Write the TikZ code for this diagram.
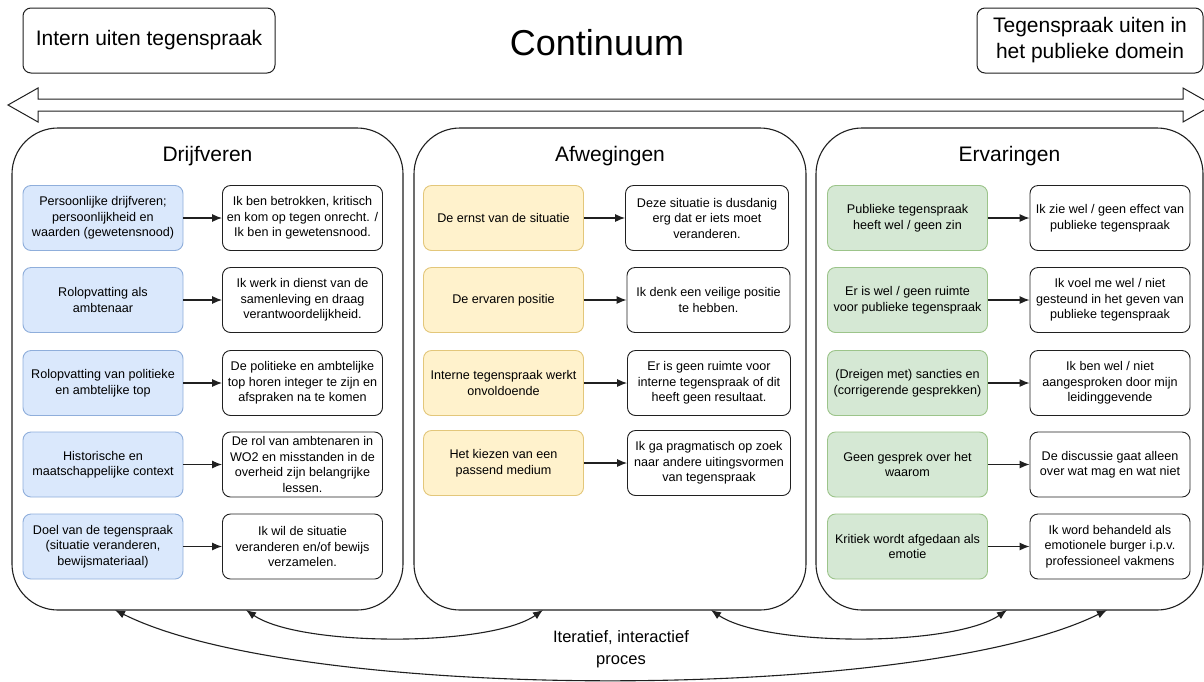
\documentclass[tikz,border=0pt]{standalone}
\usepackage{fontspec}
\setmainfont{Liberation Sans}
\usetikzlibrary{arrows.meta}
\definecolor{bfill}{HTML}{DAE8FC}
\definecolor{bline}{HTML}{8FAEDB}
\definecolor{yfill}{HTML}{FFF2CC}
\definecolor{yline}{HTML}{E3C77A}
\definecolor{gfill}{HTML}{D5E8D4}
\definecolor{gline}{HTML}{9CC48A}
\definecolor{ink}{HTML}{202020}
\begin{document}
\begin{tikzpicture}[x=1pt,y=-1pt,
  panel/.style={draw=ink, line width=1.1pt, rounded corners=46pt, minimum height=482pt, minimum width=#1, inner sep=0pt},
  topbox/.style={draw=ink, line width=1pt, rounded corners=8pt, minimum height=65pt, inner sep=2pt, align=center, font=\fontsize{21}{26}\selectfont},
  ptitle/.style={anchor=base, font=\fontsize{21}{25}\selectfont},
  box/.style={rounded corners=8pt, minimum width=160pt, minimum height=65pt, inner sep=1pt, align=center, line width=0.9pt, font=\fontsize{12.6}{15.5}\selectfont},
  bbox/.style={box, draw=bline, fill=bfill},
  ybox/.style={box, draw=yline, fill=yfill},
  gbox/.style={box, draw=gline, fill=gfill},
  wbox/.style={box, draw=ink, fill=white},
  conn/.style={draw=ink, line width=1.1pt, -{Latex[length=10pt,width=8pt]}},
  loop/.style={draw=ink, line width=1.1pt, {Latex[length=10pt,width=8pt]}-{Latex[length=10pt,width=8pt]}},
]
\useasboundingbox (0,0) rectangle (1204,681);
\clip (0,0) rectangle (1204,681);
\fill[white] (0,0) rectangle (1204,681);

% top
\node[topbox, minimum width=252pt] (intern) at (149,40.5) {Intern uiten tegenspraak};
\node[topbox, minimum width=226pt] (publiek) at (1090,40.5) {Tegenspraak uiten in\\het publieke domein};
\node[font=\fontsize{36}{40}\selectfont] (cont) at (597,43) {Continuum};

% continuum double arrow
\draw[ink, line width=1pt, fill=white]
  (8,105) -- (38,88) -- (38,99) -- (1183,99) -- (1183,88) -- (1213,105)
  -- (1183,122) -- (1183,111) -- (38,111) -- (38,122) -- cycle;

% panels
\node[panel=391pt] (drij) at (207.5,369) {};
\node[panel=392pt] (afw) at (610,369) {};
\node[panel=387pt] (erv) at (1009.5,369) {};
\node[ptitle] (drijt) at (207.5,161) {Drijfveren};
\node[ptitle] (afwt) at (610,161) {Afwegingen};
\node[ptitle] (ervt) at (1009.5,161) {Ervaringen};

% Drijfveren
\node[bbox] (d1) at (103,218) {Persoonlijke drijfveren;\\persoonlijkheid en\\waarden (gewetensnood)};
\node[wbox] (d1r) at (302.5,218) {Ik ben betrokken, kritisch\\en kom op tegen onrecht. /\\Ik ben in gewetensnood.};
\node[bbox] (d2) at (103,300) {Rolopvatting als\\ambtenaar};
\node[wbox] (d2r) at (302.5,300) {Ik werk in dienst van de\\samenleving en draag\\verantwoordelijkheid.};
\node[bbox] (d3) at (103,383) {Rolopvatting van politieke\\en ambtelijke top};
\node[wbox] (d3r) at (302.5,383) {De politieke en ambtelijke\\top horen integer te zijn en\\afspraken na te komen};
\node[bbox] (d4) at (103,464.5) {Historische en\\maatschappelijke context};
\node[wbox] (d4r) at (302.5,464.5) {De rol van ambtenaren in\\WO2 en misstanden in de\\overheid zijn belangrijke\\lessen.};
\node[bbox] (d5) at (103,546.5) {Doel van de tegenspraak\\(situatie veranderen,\\bewijsmateriaal)};
\node[wbox] (d5r) at (302.5,546.5) {Ik wil de situatie\\veranderen en/of bewijs\\verzamelen.};

% Afwegingen
\node[ybox] (a1) at (503.5,218) {De ernst van de situatie};
\node[wbox, minimum width=163pt] (a1r) at (707,218) {Deze situatie is dusdanig\\erg dat er iets moet\\veranderen.};
\node[ybox] (a2) at (503.5,300) {De ervaren positie};
\node[wbox, minimum width=163pt] (a2r) at (708.5,300) {Ik denk een veilige positie\\te hebben.};
\node[ybox] (a3) at (503.5,383) {Interne tegenspraak werkt\\onvoldoende};
\node[wbox, minimum width=163pt] (a3r) at (709,383) {Er is geen ruimte voor\\interne tegenspraak of dit\\heeft geen resultaat.};
\node[ybox] (a4) at (503.5,463) {Het kiezen van een\\passend medium};
\node[wbox, minimum width=163pt] (a4r) at (709,463) {Ik ga pragmatisch op zoek\\naar andere uitingsvormen\\van tegenspraak};

% Ervaringen
\node[gbox] (e1) at (907.5,218) {Publieke tegenspraak\\heeft wel / geen zin};
\node[wbox] (e1r) at (1110,218) {Ik zie wel / geen effect van\\publieke tegenspraak};
\node[gbox] (e2) at (907.5,300) {Er is wel / geen ruimte\\voor publieke tegenspraak};
\node[wbox] (e2r) at (1110,300) {Ik voel me wel / niet\\gesteund in het geven van\\publieke tegenspraak};
\node[gbox] (e3) at (907.5,383) {(Dreigen met) sancties en\\(corrigerende gesprekken)};
\node[wbox] (e3r) at (1110,383) {Ik ben wel / niet\\aangesproken door mijn\\leidinggevende};
\node[gbox] (e4) at (907.5,464.5) {Geen gesprek over het\\waarom};
\node[wbox] (e4r) at (1110,464.5) {De discussie gaat alleen\\over wat mag en wat niet};
\node[gbox] (e5) at (907.5,546.5) {Kritiek wordt afgedaan als\\emotie};
\node[wbox] (e5r) at (1110,546.5) {Ik word behandeld als\\emotionele burger i.p.v.\\professioneel vakmens};

\foreach \n in {d1,d2,d3,d4,d5,a1,a2,a3,a4,e1,e2,e3,e4,e5}
  \draw[conn] (\n) -- (\n r);

% iterative process
\node[font=\fontsize{16.5}{22}\selectfont, align=center] (iter) at (621,649) {Iteratief, interactief\\proces};
\coordinate (p1) at (115,610);
\coordinate (p2) at (246,610);
\coordinate (p3) at (543,610);
\coordinate (p4) at (711,610);
\coordinate (p5) at (1007,610);
\coordinate (p6) at (1107,610);
\draw[loop] (p2) .. controls (300,647) and (490,647) .. (p3);
\draw[loop] (p4) .. controls (765,647) and (953,647) .. (p5);
\draw[loop] (p1) .. controls (300,703) and (920,703) .. (p6);
\end{tikzpicture}
\end{document}
